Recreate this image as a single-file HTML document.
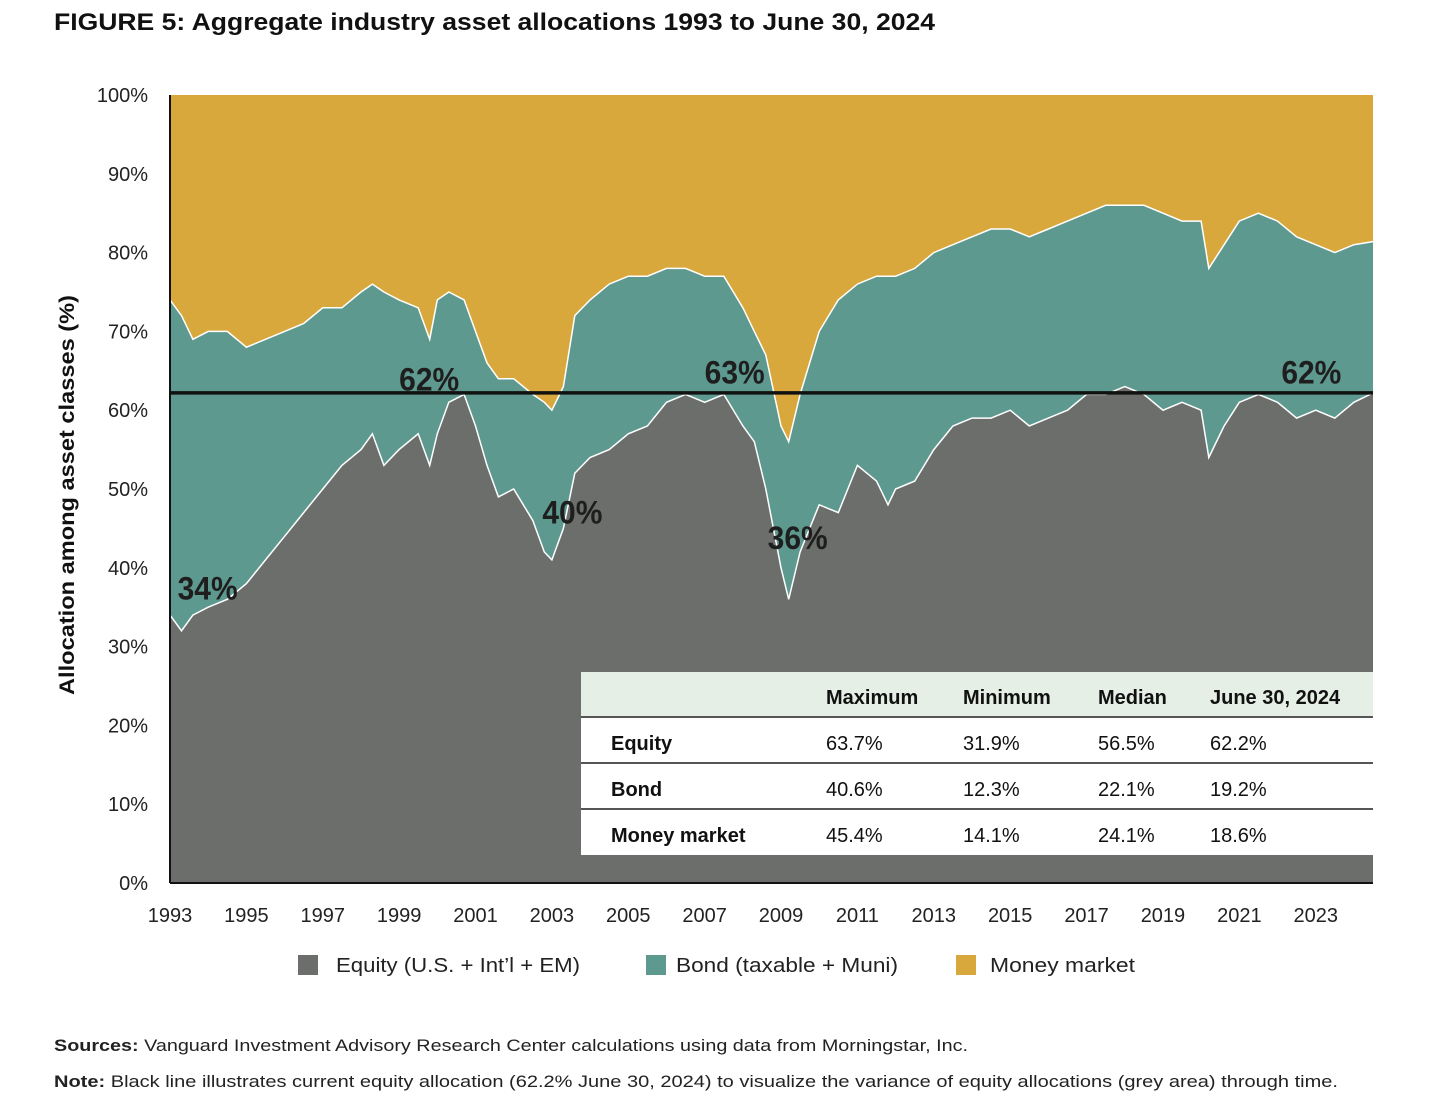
<!DOCTYPE html>
<html><head><meta charset="utf-8"><style>
body{margin:0;background:#fff;font-family:"Liberation Sans",sans-serif;}
svg text{font-family:"Liberation Sans",sans-serif;}
</style></head><body>
<svg id="chart" width="1456" height="1095" xmlns="http://www.w3.org/2000/svg">
<text x="54" y="30" font-size="24" font-weight="bold" fill="#111" textLength="881" lengthAdjust="spacingAndGlyphs">FIGURE 5: Aggregate industry asset allocations 1993 to June 30, 2024</text>
<g id="plot"></g>
<g id="axes"></g>
<text transform="translate(74,495) rotate(-90)" text-anchor="middle" font-size="21" font-weight="bold" fill="#111" textLength="400" lengthAdjust="spacingAndGlyphs">Allocation among asset classes (%)</text>
<g>
<rect x="298" y="955" width="20" height="20" fill="#6b6e6a"/>
<text x="336" y="972" font-size="20" fill="#222" textLength="244" lengthAdjust="spacingAndGlyphs">Equity (U.S. + Int’l + EM)</text>
<rect x="646" y="955" width="20" height="20" fill="#5e9990"/>
<text x="676" y="972" font-size="20" fill="#222" textLength="222" lengthAdjust="spacingAndGlyphs">Bond (taxable + Muni)</text>
<rect x="956" y="955" width="20" height="20" fill="#d9a83c"/>
<text x="990" y="972" font-size="20" fill="#222" textLength="145" lengthAdjust="spacingAndGlyphs">Money market</text>
</g>
<text x="54" y="1051" font-size="17" fill="#222" textLength="914" lengthAdjust="spacingAndGlyphs"><tspan font-weight="bold">Sources:</tspan> Vanguard Investment Advisory Research Center calculations using data from Morningstar, Inc.</text>
<text x="54" y="1087" font-size="17" fill="#222" textLength="1284" lengthAdjust="spacingAndGlyphs"><tspan font-weight="bold">Note:</tspan> Black line illustrates current equity allocation (62.2% June 30, 2024) to visualize the variance of equity allocations (grey area) through time.</text>
</svg>
<script>
const times=[1993,1993.3,1993.6,1994,1994.5,1995,1995.5,1996,1996.5,1997,1997.5,1998,1998.3,1998.6,1999,1999.5,1999.8,2000,2000.3,2000.7,2001,2001.3,2001.6,2002,2002.5,2002.8,2003,2003.3,2003.6,2004,2004.5,2005,2005.5,2006,2006.5,2007,2007.5,2008,2008.3,2008.6,2009,2009.2,2009.5,2010,2010.5,2011,2011.5,2011.8,2012,2012.5,2013,2013.5,2014,2014.5,2015,2015.5,2016,2016.5,2017,2017.5,2018,2018.5,2019,2019.5,2020,2020.2,2020.6,2021,2021.5,2022,2022.5,2023,2023.5,2024,2024.5];
const equity=[34,32,34,35,36,38,41,44,47,50,53,55,57,53,55,57,53,57,61,62,58,53,49,50,46,42,41,45,52,54,55,57,58,61,62,61,62,58,56,50,40,36,42,48,47,53,51,48,50,51,55,58,59,59,60,58,59,60,62,62,63,62,60,61,60,54,58,61,62,61,59,60,59,61,62.2];
const equityPlusBond=[74,72,69,70,70,68,69,70,71,73,73,75,76,75,74,73,69,74,75,74,70,66,64,64,62,61,60,63,72,74,76,77,77,78,78,77,77,73,70,67,58,56,62,70,74,76,77,77,77,78,80,81,82,83,83,82,83,84,85,86,86,86,85,84,84,78,81,84,85,84,82,81,80,81,81.4];
const yTicks=[0,10,20,30,40,50,60,70,80,90,100];
const xTicks=[1993,1995,1997,1999,2001,2003,2005,2007,2009,2011,2013,2015,2017,2019,2021,2023];
const currentEquity=62.2;
const callouts=[{t:1993.2,v:36.0,label:"34%"},{t:1999.0,v:62.5,label:"62%"},{t:2002.75,v:45.6,label:"40%"},{t:2007.0,v:63.4,label:"63%"},{t:2008.65,v:42.4,label:"36%"},{t:2022.1,v:63.4,label:"62%"}];
const tableCols=["Maximum","Minimum","Median","June 30, 2024"];
const tableRows=[["Equity","63.7%","31.9%","56.5%","62.2%"],["Bond","40.6%","12.3%","22.1%","19.2%"],["Money market","45.4%","14.1%","24.1%","18.6%"]];

const X0=170,X1=1373,Y0=883,Y1=95,T0=1993,T1=2024.5;
const xs=t=>X0+(t-T0)/(T1-T0)*(X1-X0);
const ys=v=>Y0-v/100*(Y0-Y1);
const NS="http://www.w3.org/2000/svg";
const plot=document.getElementById('plot'),axes=document.getElementById('axes');
function mk(tag,attrs,parent){const e=document.createElementNS(NS,tag);for(const k in attrs)e.setAttribute(k,attrs[k]);parent.appendChild(e);return e;}

const money=mk('rect',{x:X0,y:Y1,width:X1-X0,height:Y0-Y1,fill:'#d9a83c'},plot);


const line=arr=>times.map((t,i)=>xs(t).toFixed(1)+','+ys(arr[i]).toFixed(1)).join(' L');
const bond=mk('path',{d:'M'+xs(times[0])+','+Y0+' L'+line(equityPlusBond)+' L'+X1+','+Y0+' Z',fill:'#5e9990'},plot);


mk('path',{d:'M'+line(equityPlusBond),fill:'none',stroke:'#fff','stroke-width':1.5},plot);
const eq=mk('path',{d:'M'+xs(times[0])+','+Y0+' L'+line(equity)+' L'+X1+','+Y0+' Z',fill:'#6b6e6a'},plot);


mk('path',{d:'M'+line(equity),fill:'none',stroke:'#fff','stroke-width':1.5},plot);
const ref=mk('line',{x1:X0,x2:X1,y1:ys(currentEquity),y2:ys(currentEquity),stroke:'#111','stroke-width':3.5},plot);


callouts.forEach(c=>{const e=mk('text',{x:xs(c.t),y:ys(c.v),'font-size':32,'font-weight':'bold',fill:'#1e1e1e',textLength:60,lengthAdjust:'spacingAndGlyphs'},plot);e.textContent=c.label;

});

mk('line',{x1:X0,x2:X0,y1:Y1,y2:Y0,stroke:'#111','stroke-width':2},axes);
mk('line',{x1:X0,x2:X1,y1:Y0,y2:Y0,stroke:'#111','stroke-width':2},axes);
yTicks.forEach(v=>{const e=mk('text',{x:148,y:ys(v)+7,'text-anchor':'end','font-size':20,fill:'#222'},axes);e.textContent=v+'%';

});
xTicks.forEach(t=>{const e=mk('text',{x:xs(t),y:922,'text-anchor':'middle','font-size':20,fill:'#222'},axes);e.textContent=t;

});

const TX=581,TY=672;
const tbl=mk('g',{},axes);


mk('rect',{x:TX,y:TY,width:X1-TX,height:45,fill:'#e5efe6'},tbl);
mk('rect',{x:TX,y:TY+45,width:X1-TX,height:138,fill:'#fff'},tbl);
const colX=[611,826,963,1098,1210];
tableCols.forEach((c,i)=>{const e=mk('text',{x:colX[i+1],y:TY+32,'font-size':20,'font-weight':'bold',fill:'#111'},tbl);e.textContent=c;

});
tableRows.forEach((r,ri)=>{const y=TY+45+ri*46;
mk('line',{x1:TX,x2:X1,y1:y,y2:y,stroke:'#555','stroke-width':2},tbl);
r.forEach((c,ci)=>{const e=mk('text',{x:colX[ci],y:y+33,'font-size':20,'font-weight':ci==0?'bold':'normal',fill:'#111'},tbl);e.textContent=c;

});});
</script>
</body></html>
